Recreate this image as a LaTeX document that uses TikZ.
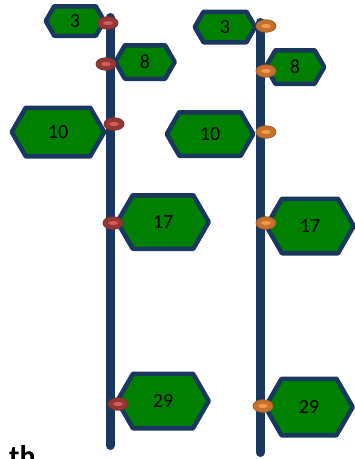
\documentclass[tikz,border=0pt]{standalone}
\usepackage{fontspec}
\setmainfont{Carlito}
\usepackage{tikz}
\usetikzlibrary{shapes.symbols, shapes.geometric}
\definecolor{navy}{HTML}{1A375E}
\definecolor{leaf}{HTML}{008000}
\definecolor{dotred}{HTML}{953735}
\definecolor{dotredhi}{HTML}{D65C5C}
\definecolor{dotorange}{HTML}{C4702E}
\definecolor{dotorangehi}{HTML}{F59A4C}

\begin{document}
\begin{tikzpicture}[x=1pt, y=-1pt,
  tag/.style={signal, signal to=west and east, signal pointer angle=120,
    draw=navy, line width=4.5pt, line join=round, fill=leaf, inner sep=0pt,
    font=\fontsize{20}{20}\selectfont},
  rail/.style={draw=navy, line width=9pt, line cap=round},
  knot/.style={ellipse, minimum width=20pt, minimum height=12.5pt, inner sep=0pt, line width=0.8pt},
  redknot/.style={knot, fill=dotred, draw=dotred!85!black,
    path picture={\fill[dotredhi] (path picture bounding box.center) ellipse (5pt and 2pt);}},
  orangeknot/.style={knot, fill=dotorange, draw=dotorange!85!black,
    path picture={\fill[dotorangehi] (path picture bounding box.center) ellipse (5pt and 2pt);}}]
\clip (0,0) rectangle (355,459);
\coordinate (ltop) at (110,17.5);
\coordinate (lbot) at (110,445.5);
\coordinate (rtop) at (260,22.5);
\coordinate (rbot) at (260,452.5);
\draw[rail] (ltop) -- (lbot);
\draw[rail] (rtop) -- (rbot);
\node[tag, minimum width=58.5pt, minimum height=29.5pt] (l3) at (75,21) {3};
\node[tag, minimum width=59.5pt, minimum height=33.5pt] (l8) at (145,62) {8};
\node[tag, minimum width=92.5pt, minimum height=48.5pt] (l10) at (58,132) {10};
\node[tag, minimum width=91.5pt, minimum height=53.5pt] (l17) at (163,222) {17};
\node[tag, minimum width=91.5pt, minimum height=54.5pt] (l29) at (163,401) {29};
\node[tag, minimum width=60.5pt, minimum height=30.5pt] (r3) at (225,27) {3};
\node[tag, minimum width=58.5pt, minimum height=33.5pt] (r8) at (295,67) {8};
\node[tag, minimum width=86.5pt, minimum height=43.5pt] (r10) at (210,134) {10};
\node[tag, minimum width=87.5pt, minimum height=54.5pt] (r17) at (310,226) {17};
\node[tag, minimum width=87.5pt, minimum height=56.5pt] (r29) at (309,407) {29};
\node[redknot] (lk3) at (108,23) {};
\node[redknot] (lk8) at (106,64) {};
\node[redknot] (lk10) at (114,124) {};
\node[redknot] (lk17) at (113,223) {};
\node[redknot] (lk29) at (118,404) {};
\node[orangeknot] (rk3) at (266,26) {};
\node[orangeknot] (rk8) at (266,71) {};
\node[orangeknot] (rk10) at (266,132) {};
\node[orangeknot] (rk17) at (266,223) {};
\node[orangeknot] (rk29) at (263,406) {};
\node[font=\bfseries\fontsize{30}{30}\selectfont, anchor=base west, inner sep=0pt] (cut) at (9,466) {th};
\end{tikzpicture}
\end{document}
